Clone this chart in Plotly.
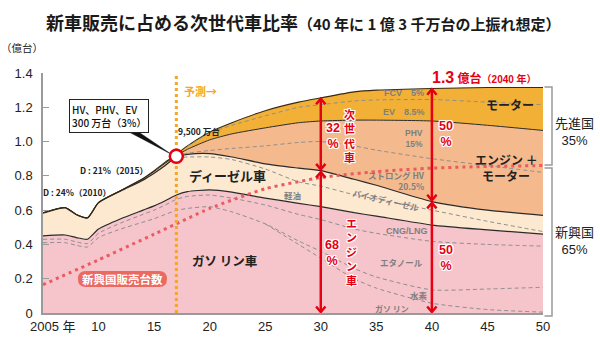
import plotly.graph_objects as go

# ---------------- data (cumulative levels, 100M units) ----------------
years = [2005, 2007, 2008, 2009, 2010, 2012, 2014, 2015, 2016, 2017, 2018,
         2020, 2022, 2025, 2028, 2030, 2033, 2035, 2040, 2045, 2050]
total = [0.585, 0.615, 0.575, 0.556, 0.645, 0.715, 0.785, 0.83, 0.88, 0.925, 0.975,
         1.055, 1.11, 1.18, 1.23, 1.255, 1.29, 1.30, 1.31, 1.315, 1.315]
ev_bottom = [0.585, 0.615, 0.575, 0.556, 0.645, 0.715, 0.783, 0.826, 0.874, 0.918, 0.955,
             1.01, 1.045, 1.08, 1.11, 1.12, 1.125, 1.125, 1.12, 1.095, 1.065]
fcv_div = [None] * 10 + [0.972, 1.05, 1.095, 1.15, 1.20, 1.215, 1.237, 1.243, 1.245, 1.23, 1.215]
phv_div = [None] * 9 + [0.915, 0.932, 0.948, 0.96, 0.975, 0.995, 1.0, 0.975, 0.95, 0.90, 0.86, 0.82]
diesel_top = [0.583, 0.613, 0.573, 0.554, 0.643, 0.712, 0.775, 0.815, 0.86, 0.91, 0.925,
              0.93, 0.91, 0.87, 0.845, 0.83, 0.78, 0.745, 0.65, 0.60, 0.57]
bio_div = [None] * 9 + [0.905, 0.91, 0.91, 0.895, 0.84, 0.765, 0.74, 0.69, 0.665, 0.60, 0.535, 0.475]
gas_top = [0.45, 0.455, 0.44, 0.43, 0.49, 0.55, 0.60, 0.625, 0.655, 0.688, 0.708,
           0.718, 0.705, 0.67, 0.64, 0.62, 0.585, 0.565, 0.513, 0.485, 0.46]
cng_div = [0.43, 0.43, 0.415, 0.405, 0.465, 0.525, 0.575, 0.60, 0.63, 0.663, 0.68,
           0.688, 0.67, 0.63, 0.575, 0.545, 0.49, 0.465, 0.418, 0.40, 0.39]
eth_div = [0.41, 0.41, 0.395, 0.385, 0.44, 0.49, 0.53, 0.55, 0.575, 0.598, 0.61,
           0.62, 0.59, 0.52, 0.42, 0.36, 0.26, 0.21, 0.135, 0.14, 0.15]
h2_div = [None] * 13 + [0.52, 0.40, 0.32, 0.20, 0.145, 0.057, 0.02, 0.005]

em_years = [2005, 2010, 2015, 2020, 2025, 2030, 2035, 2040, 2045, 2050]
em_sales = [0.165, 0.31, 0.46, 0.61, 0.725, 0.79, 0.825, 0.845, 0.855, 0.86]

x_tickvals = [2010, 2015, 2020, 2025, 2030, 2035, 2040, 2045, 2050]
x_ticktext = ["10", "15", "20", "25", "30", "35", "40", "45", "50"]
y_tickvals = [0, 0.2, 0.4, 0.6, 0.8, 1.0, 1.2, 1.4]
y_ticktext = ["0", "0.2", "0.4", "0.6", "0.8", "1.0", "1.2", "1.4"]

forecast_year = 2017

# ---------------- style ----------------
PINK = "#f6c4cb"
BEIGE = "#fde8d0"
SALMON = "#f4ba8e"
GOLD = "#f2b136"
RED = "#e50012"
ORANGE = "#f5a623"
GRAYTXT = "#7f7f7f"
JP = "Noto Sans CJK JP"
NUM = "Liberation Sans Narrow, Liberation Sans, Arial"
SM = 0.6

fig = go.Figure()


def area(y, fill, fillcolor, lcolor, lw):
    fig.add_trace(go.Scatter(x=years, y=y, mode="lines", fill=fill, fillcolor=fillcolor,
                             line=dict(color=lcolor, width=lw, shape="spline", smoothing=SM),
                             hoverinfo="skip", showlegend=False))


area(gas_top, "tozeroy", PINK, "#2a2a2a", 1.2)
area(diesel_top, "tonexty", BEIGE, "#2a2a2a", 1.2)
area(ev_bottom, "tonexty", SALMON, "#2a2a2a", 1.0)
area(total, "tonexty", GOLD, "#3a2a10", 1.1)

for d in [fcv_div, phv_div, bio_div, cng_div, eth_div, h2_div]:
    fig.add_trace(go.Scatter(x=years, y=d, mode="lines",
                             line=dict(color="#8e8e8e", width=1, dash="4px,3px",
                                       shape="spline", smoothing=SM),
                             hoverinfo="skip", showlegend=False, connectgaps=False))

fig.add_trace(go.Scatter(x=em_years, y=em_sales, mode="lines",
                         line=dict(color="#ea5a5e", width=3, dash="3px,4px",
                                   shape="spline", smoothing=0.5),
                         hoverinfo="skip", showlegend=False))

shapes = []
# forecast line
shapes.append(dict(type="line", xref="x", yref="y", x0=forecast_year, x1=forecast_year,
                   y0=0, y1=1.39, line=dict(color=ORANGE, width=3, dash="dot")))

# callout pointer
i17 = years.index(forecast_year)
cy = (ev_bottom[i17] + diesel_top[i17]) / 2
shapes.append(dict(type="path", xref="x", yref="y",
                   path=f"M 2012.1,1.078 L 2013.1,1.078 L {forecast_year - 0.45},{cy + 0.012} Z",
                   fillcolor="#111", line=dict(color="#111", width=0.5)))
# circle marker
shapes.append(dict(type="circle", xref="x", yref="y", xsizemode="pixel", ysizemode="pixel",
                   xanchor=forecast_year, yanchor=cy, x0=-6.5, x1=6.5, y0=-6.5, y1=6.5,
                   fillcolor="white", line=dict(color=RED, width=2.5)))


def darrow(x, ya, yb):
    dx, dy = 0.42, 0.032
    shapes.append(dict(type="line", xref="x", yref="y", x0=x, x1=x, y0=yb, y1=ya,
                       line=dict(color=RED, width=2.5)))
    shapes.append(dict(type="path", xref="x", yref="y",
                       path=f"M {x-dx},{ya-dy} L {x},{ya} L {x+dx},{ya-dy}",
                       line=dict(color=RED, width=2.5)))
    shapes.append(dict(type="path", xref="x", yref="y",
                       path=f"M {x-dx},{yb+dy} L {x},{yb} L {x+dx},{yb+dy}",
                       line=dict(color=RED, width=2.5)))


for yr in (2030, 2040):
    k = years.index(yr)
    darrow(yr, total[k] - 0.005, diesel_top[k] + 0.008)
    darrow(yr, diesel_top[k] - 0.008, 0.006)

# brackets on the right (paper coords)
bx, bt = 1.018, 1.003
for top, bot in [(0.942, 0.617), (0.604, -0.012)]:
    shapes.append(dict(type="path", xref="paper", yref="paper",
                       path=f"M {bt},{top} L {bx},{top} L {bx},{bot} L {bt},{bot}",
                       line=dict(color="#9a9a9a", width=1.5)))

# pill behind label
shapes.append(dict(type="path", xref="x", yref="y", xsizemode="pixel", ysizemode="pixel",
                   xanchor=2012.15, yanchor=0.198,
                   path="M -36.5,8 L 36.5,8 Q 44.5,8 44.5,0 Q 44.5,-8 36.5,-8 L -36.5,-8 "
                        "Q -44.5,-8 -44.5,0 Q -44.5,8 -36.5,8 Z",
                   fillcolor="#ea6a62", line=dict(width=0)))

anns = []


def txt(x, y, text, size=9, color="#222", weight=700, xanchor="center", xref="x",
        yref="y", angle=0, family=JP, shadow=None, yshift=0, align="center"):
    f = dict(size=size, color=color, family=family, weight=weight)
    if shadow:
        f["shadow"] = shadow
    anns.append(dict(x=x, y=y, xref=xref, yref=yref, text=text, showarrow=False,
                     font=f, xanchor=xanchor, yanchor="middle", textangle=angle,
                     yshift=yshift, align=align))


WS = ("1px 1px 0 #fff, -1px -1px 0 #fff, 1px -1px 0 #fff, -1px 1px 0 #fff, "
      "0 1px 0 #fff, 0 -1px 0 #fff, 1px 0 0 #fff, -1px 0 0 #fff")


def vtext(parts, x, yc, size, family=JP):
    txt(x, yc, "<br>".join(parts), size=size, color=RED, shadow=WS, family=family)


# title and axis unit
txt(0.52, 1.213, "新車販売に占める次世代車比率<span style=\"font-size:15px\">（40 年に 1 億 3 千万台の上振れ想定）</span>",
    size=18, xref="paper", yref="paper", color="#1a1a1a")
txt(-0.043, 1.108, "（億台）", size=10.5, weight=400, xref="paper", yref="paper")
txt(2005.9, -0.058, "2005 年", size=13, weight=400, yref="paper", family=NUM + ", " + JP)

# left labels
txt(2019.2, 1.295, "予測→", size=11, color=ORANGE)
txt(2019.0, 1.062, "9,500 万台", size=8.5)
txt(2011.4, 0.834, "D : 21%（2015）", size=8.5)
txt(2008.1, 0.706, "D : 24%（2010）", size=8.5)
anns.append(dict(x=2010.94, y=1.152, xref="x", yref="y", showarrow=False,
                 text="HV、PHV、EV<br>300 万台（3%）", align="left",
                 font=dict(size=10, family=JP, color="#111", weight=500),
                 bgcolor="white", bordercolor="#222", borderwidth=1, borderpad=2))

# area labels
txt(2021.56, 0.805, "ディーゼル車", size=13)
txt(2021.3, 0.309, "ガソ リン車", size=12.5)
txt(2027.47, 0.688, "軽油", size=8.5, color=GRAYTXT)
txt(2035.9, 0.659, "バイオディーゼル", size=8.5, color=GRAYTXT, angle=13)
txt(2037.76, 0.478, "CNG/LNG", size=9, color=GRAYTXT, family=NUM)
txt(2037.3, 0.297, "エタノール", size=8.5, color=GRAYTXT)
txt(2038.84, 0.105, "水素", size=8.5, color=GRAYTXT)
txt(2036.4, 0.029, "ガソ リン", size=8, color=GRAYTXT)
txt(2039.6, 0.772, "ストロング HV<br>20.5%", size=8.5, color=GRAYTXT, xanchor="right",
    align="right")
txt(2039.4, 1.02, "PHV<br>15%", size=8.5, color=GRAYTXT, xanchor="right", align="right",
    family=NUM + ", " + JP)
txt(2037.5, 1.283, "FCV　5%", size=9, color=GRAYTXT, family=NUM)
txt(2037.5, 1.172, "EV　8.5%", size=9, color=GRAYTXT, family=NUM)
txt(2047.03, 1.219, "モーター", size=12)
txt(2046.7, 0.893, "エンジン ＋", size=12)
txt(2046.7, 0.80, "モーター", size=12)

# red labels
vtext(list("次世代車"), 2032.55, 1.038, 11)
vtext(["32", "%"], 2031.1, 1.03, 12.5, family=NUM)
vtext(list("エンジン車"), 2032.8, 0.356, 11)
vtext(["68", "%"], 2031.0, 0.35, 12.5, family=NUM)
vtext(["50", "%"], 2041.27, 1.044, 12.5, family=NUM)
vtext(["50", "%"], 2041.27, 0.321, 12.5, family=NUM)
txt(2044.73, 1.371,
    "<span style=\"font-size:16px\">1.3</span> 億台<span style=\"font-size:10px\">（2040 年）</span>",
    size=12, color=RED, family=NUM + ", " + JP)

# pill label
txt(2012.15, 0.198, "新興国販売台数", size=11.5, color="white")

# right side labels
txt(1.062, 0.753, "先進国<br>35%", size=13, weight=400, xref="paper", yref="paper",
    family=NUM + ", " + JP)
txt(1.062, 0.30, "新興国<br>65%", size=13, weight=400, xref="paper", yref="paper",
    family=NUM + ", " + JP)

fig.update_layout(
    width=600, height=350,
    margin=dict(l=43, r=57, t=73, b=37),
    paper_bgcolor="white", plot_bgcolor="white",
    showlegend=False,
    shapes=shapes, annotations=anns,
    xaxis=dict(range=[2005, 2050], tickvals=x_tickvals, ticktext=x_ticktext,
               showgrid=False, zeroline=False, showline=True, linecolor="#9a9a9a",
               linewidth=2, ticks="", tickfont=dict(size=13, family=NUM, color="#222"),
               fixedrange=True),
    yaxis=dict(range=[0, 1.4], tickvals=y_tickvals, ticktext=y_ticktext,
               showgrid=False, zeroline=False, showline=True, linecolor="#9a9a9a",
               linewidth=1.5, ticks="inside", ticklen=6, tickcolor="#9a9a9a",
               tickfont=dict(size=13, family=NUM, color="#222"), ticklabelstandoff=6,
               fixedrange=True),
)

fig.write_html("out.html")
